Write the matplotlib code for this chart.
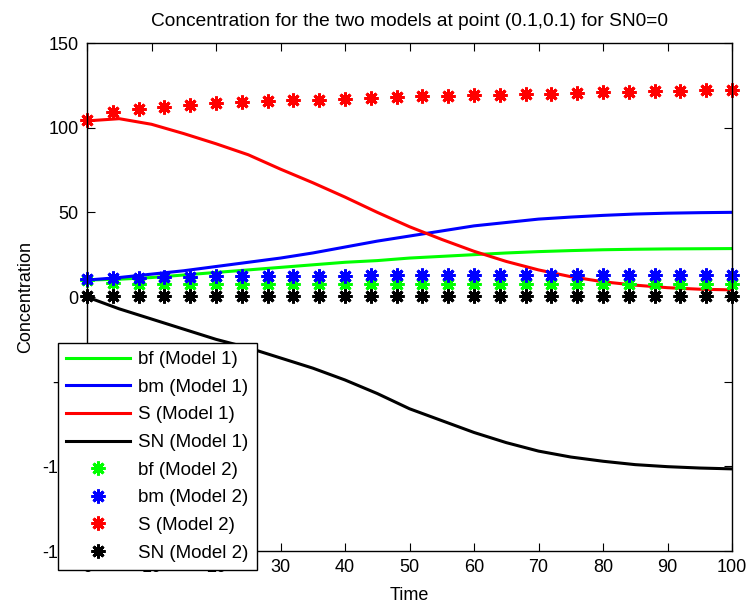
import matplotlib
matplotlib.use("Agg")
import matplotlib.pyplot as plt
import numpy as np

plt.rcParams['font.family'] = ['Liberation Sans', 'DejaVu Sans']
plt.rcParams['axes.unicode_minus'] = False

# Model 1 (solid lines), sampled every 5 time units
t1 = [0, 5, 10, 15, 20, 25, 30, 35, 40, 45, 50, 55, 60, 65, 70, 75, 80, 85, 90, 95, 100]
bf1 = [10, 10.5, 11.5, 13, 14.5, 16, 17.5, 19, 20.5, 21.5, 23, 24, 25, 26, 26.8, 27.4, 27.9, 28.2, 28.4, 28.5, 28.6]
bm1 = [10, 11.5, 13.5, 15.5, 18, 20.5, 23, 26, 29.5, 33, 36, 39, 42, 44, 46, 47.2, 48.2, 49, 49.5, 49.8, 50]
S1 = [104, 105.3, 102, 96.5, 90.5, 84, 75.5, 67.5, 59, 50, 41.5, 34, 27, 21, 16, 12, 9, 7, 5.5, 4.6, 4.2]
SN1 = [0, -7, -13, -19, -25, -30, -36, -42, -49, -57, -66, -73, -80, -86, -91, -94.5, -97, -99, -100.2, -101, -101.5]

# Model 2 (star markers), sampled every 4 time units
t2 = [0, 4, 8, 12, 16, 20, 24, 28, 32, 36, 40, 44, 48, 52, 56, 60, 64, 68, 72, 76, 80, 84, 88, 92, 96, 100]
bf2 = [10, 8.2, 7.9, 7.8, 7.7, 7.6, 7.6, 7.6, 7.5, 7.5, 7.5, 7.5, 7.5, 7.5, 7.5, 7.5, 7.5, 7.5, 7.5, 7.5, 7.5, 7.5, 7.5, 7.5, 7.5, 7.5]
bm2 = [10.5, 11, 11.5, 11.8, 12, 12.2, 12.3, 12.4, 12.5, 12.6, 12.6, 12.7, 12.7, 12.8, 12.8, 12.8, 12.9, 12.9, 12.9, 13, 13, 13, 13, 13, 13, 13]
S2 = [104.5, 109.5, 111, 112.4, 113.4, 114.5, 115, 115.6, 116.3, 116.6, 117.2, 117.6, 118, 118.6, 118.9, 119.3,
      119.5, 119.9, 120.1, 120.5, 120.8, 121, 121.4, 121.8, 122, 122.2]
SN2 = [0.3] * 26

xticks = np.arange(0, 101, 10)
yticks = np.arange(-150, 151, 50)

fig = plt.figure(figsize=(7.48, 6.06), dpi=100)
ax = fig.add_axes([87/748, 1 - 551/606, (732 - 87)/748, (551 - 43)/606])

lw = 2.2
ax.plot(t1, bf1, color=(0, 1, 0), lw=lw, label='bf (Model 1)')
ax.plot(t1, bm1, color=(0, 0, 1), lw=lw, label='bm (Model 1)')
ax.plot(t1, S1, color=(1, 0, 0), lw=lw, label='S (Model 1)')
ax.plot(t1, SN1, color='k', lw=lw, label='SN (Model 1)')

star = (8, 2, 0)
mk = dict(linestyle='none', marker=star, markersize=10, markeredgewidth=2.1, clip_on=False)
ax.plot(t2, bf2, color=(0, 1, 0), label='bf (Model 2)', **mk)
ax.plot(t2, bm2, color=(0, 0, 1), label='bm (Model 2)', **mk)
ax.plot(t2, S2, color=(1, 0, 0), label='S (Model 2)', **mk)
ax.plot(t2, SN2, color='k', label='SN (Model 2)', **mk)

ax.set_xlim(0, 100)
ax.set_ylim(-150, 150)
ax.set_xticks(xticks)
ax.set_yticks(yticks)
ax.tick_params(direction='in', top=True, right=True, length=6, labelsize=13, pad=6)
for s in ax.spines.values():
    s.set_linewidth(1.0)

ax.set_xlabel('Time', fontsize=13, labelpad=8)
ax.set_ylabel('Concentration', fontsize=13, labelpad=6)
ax.set_title('Concentration for the two models at point (0.1,0.1) for SN0=0', fontsize=13.8, pad=12)

leg = ax.legend(loc='lower left', bbox_to_anchor=(58/748, 36/606), bbox_transform=fig.transFigure,
                borderaxespad=0, fontsize=13.5, handlelength=3.4, handletextpad=0.4,
                labelspacing=0.56, borderpad=0.45, fancybox=False, framealpha=1,
                edgecolor='k', numpoints=1)
leg.get_frame().set_linewidth(1.0)

fig.savefig('out.png', dpi=100)
